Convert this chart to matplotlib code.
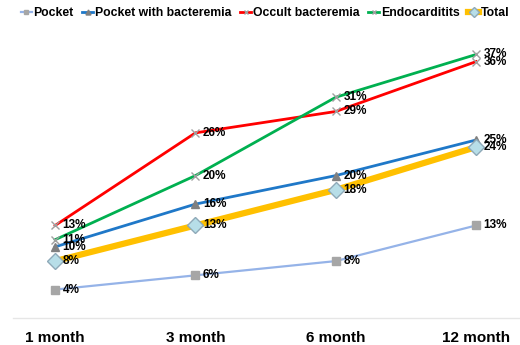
import matplotlib
import matplotlib.pyplot as plt

matplotlib.use('agg')

plt.rcParams['font.family'] = ['Liberation Sans', 'DejaVu Sans']
plt.rcParams['font.weight'] = 'bold'

months = ['1 month', '3 month', '6 month', '12 month']

pocket = [4, 6, 8, 13]
pocket_bacteremia = [10, 16, 20, 25]
occult_bacteremia = [13, 26, 29, 36]
endocarditis = [11, 20, 31, 37]
total = [8, 13, 18, 24]

series = [
    ('Pocket', pocket, dict(color='#95B3E8', lw=1.6, marker='s', ms=6,
                            mfc='#A6A6A6', mec='#A6A6A6')),
    ('Pocket with bacteremia', pocket_bacteremia, dict(color='#1F78C8', lw=2.0, marker='^', ms=6,
                                                       mfc='#808080', mec='#808080')),
    ('Occult bacteremia', occult_bacteremia, dict(color='#FF0000', lw=2.0, marker='x', ms=6,
                                                  mec='#A0A0A0', mew=1.0)),
    ('Endocarditits', endocarditis, dict(color='#00B050', lw=2.0, marker='x', ms=6,
                                         mec='#A0A0A0', mew=1.0)),
    ('Total', total, dict(color='#FFC000', lw=4.5, marker='D', ms=8,
                          mfc='#B7DEE8', mec='#8EA9B8', mew=1.0)),
]

fig = plt.figure(figsize=(5.2, 3.45), dpi=100)
ax = fig.add_axes([0.025, 0.078, 0.975, 0.826])

x = list(range(len(months)))
for name, values, style in series:
    ax.plot(x, values, label=name, **style)
    for xi, v in zip(x, values):
        ax.annotate(f'{v}%', (xi, v), xytext=(5.5, 0), textcoords='offset points',
                    va='center', ha='left', fontsize=8.5, fontweight='bold')

ax.set_xlim(-0.3, 3.313)
ax.set_ylim(0, 40)
ax.set_xticks(x)
ax.set_xticklabels(months, fontsize=11, fontweight='bold')
ax.tick_params(axis='x', length=0, pad=9)
ax.set_yticks([])
for side in ['top', 'right', 'left']:
    ax.spines[side].set_visible(False)
ax.spines['bottom'].set_color('#E6E6E6')
ax.spines['bottom'].set_linewidth(1.0)

fig.legend(loc='center', bbox_to_anchor=(0.51, 0.962), ncol=5, frameon=False,
           fontsize=8.8, handlelength=0.9, handletextpad=0.15, columnspacing=0.7,
           borderaxespad=0, borderpad=0, markerscale=0.6)

plt.savefig('out.png')
plt.close()
